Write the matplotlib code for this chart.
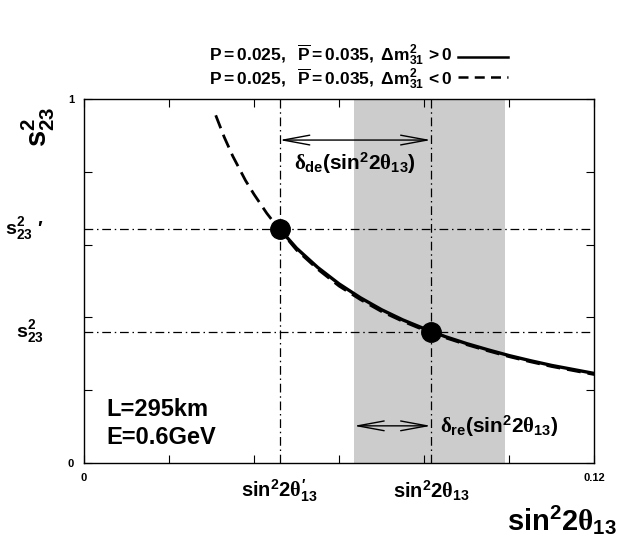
import numpy as np
import matplotlib
matplotlib.use('Agg')
import matplotlib.pyplot as plt

plt.rcParams['font.family'] = ['Liberation Sans', 'DejaVu Sans']
plt.rcParams['font.weight'] = 'bold'
plt.rcParams['mathtext.fontset'] = 'custom'
plt.rcParams['mathtext.rm'] = 'Liberation Sans:bold'
plt.rcParams['mathtext.bf'] = 'Liberation Sans:bold'
plt.rcParams['mathtext.it'] = 'Liberation Serif'
plt.rcParams['mathtext.default'] = 'it'

#=====================================================
# Data
#-----------------------------------------------------
x_solid = [0.046, 0.050, 0.055, 0.060, 0.065, 0.070, 0.075, 0.080, 0.0816,
           0.085, 0.090, 0.095, 0.100, 0.105, 0.110, 0.115, 0.120]
y_solid = [0.643, 0.590, 0.537, 0.492, 0.454, 0.421, 0.393, 0.369, 0.362,
           0.347, 0.328, 0.311, 0.295, 0.281, 0.268, 0.257, 0.246]

x_dash = [0.031, 0.033, 0.035, 0.038, 0.040, 0.043, 0.046, 0.050, 0.055,
          0.060, 0.065, 0.070, 0.075, 0.080, 0.0816, 0.085, 0.090, 0.095,
          0.100, 0.105, 0.110, 0.115, 0.120]
y_dash = [0.955, 0.895, 0.843, 0.776, 0.738, 0.686, 0.641, 0.585, 0.532,
          0.486, 0.449, 0.416, 0.389, 0.365, 0.359, 0.344, 0.325, 0.308,
          0.292, 0.278, 0.265, 0.254, 0.243]

# the two marked points (sin^2 2theta13', s23^2') and (sin^2 2theta13, s23^2)
pts_x = [0.046, 0.0816]
pts_y = [0.643, 0.360]

band = (0.0635, 0.0990)   # grey band in sin^2 2theta13

x_ticks = [0, 0.02, 0.04, 0.06, 0.08, 0.10, 0.12]
x_ticklabels = ['0', '', '', '', '', '', '0.12']
y_ticks = [0, 0.2, 0.4, 0.6, 0.8, 1.0]
y_ticklabels = ['0', '', '', '', '', '1']

leg1 = r'$\mathbf{P{=}0.025,\ \ \overline{P}{=}0.035,\ }\Delta\mathbf{m^2_{31}\,{>}0}$'
leg2 = r'$\mathbf{P{=}0.025,\ \ \overline{P}{=}0.035,\ }\Delta\mathbf{m^2_{31}\,{<}0}$'

#=====================================================
# Figure
#-----------------------------------------------------
fig = plt.figure(figsize=(6.17, 5.45), dpi=100)
ax = fig.add_axes([0.136, 0.1505, 0.827, 0.668])
ax.set_xlim(0, 0.12)
ax.set_ylim(0, 1)

ax.axvspan(band[0], band[1], color='#cccccc', lw=0, zorder=0)

dd = (0, (7, 3, 1.2, 3))
for yy in pts_y:
    ax.axhline(yy, color='black', lw=0.9, ls=dd, zorder=1)
for xx in pts_x:
    ax.axvline(xx, color='black', lw=0.9, ls=dd, zorder=1)

ax.plot(x_dash, y_dash, color='black', lw=2.0, ls=(0, (5, 2.5)), zorder=3)
ax.plot(x_solid, y_solid, color='black', lw=2.4, zorder=3)
ax.plot(pts_x, pts_y, 'o', color='black', ms=14, zorder=4)

# arrows
arrow = dict(arrowstyle='<->,head_length=1.9,head_width=0.35',
             lw=1.0, color='black', shrinkA=0, shrinkB=0)
ax.annotate('', xy=(pts_x[0], 0.887), xytext=(pts_x[1], 0.887), arrowprops=arrow)
ax.text(0.0638, 0.824, r'$\delta_{\mathbf{de}}\mathbf{(sin^2 2}\theta_{\mathbf{13}}\mathbf{)}$',
        fontsize=15, ha='center', va='center')
ax.annotate('', xy=(band[0], 0.102), xytext=(pts_x[1], 0.102), arrowprops=arrow)
ax.text(0.0838, 0.102, r'$\delta_{\mathbf{re}}\mathbf{(sin^2 2}\theta_{\mathbf{13}}\mathbf{)}$',
        fontsize=15, ha='left', va='center')

ax.text(0.0054, 0.146, 'L=295km', fontsize=17, fontweight='bold', va='center')
ax.text(0.0054, 0.069, 'E=0.6GeV', fontsize=17, fontweight='bold', va='center')

# axes styling
ax.set_xticks(x_ticks)
ax.set_xticklabels(x_ticklabels, fontsize=8, fontweight='bold')
ax.set_yticks(y_ticks)
ax.set_yticklabels(y_ticklabels, fontsize=8, fontweight='bold')
ax.tick_params(direction='in', length=6, width=0.8, top=True, right=True, pad=7)
for s in ax.spines.values():
    s.set_linewidth(1.0)

# custom labels on the axes
ax.text(-0.0095, pts_y[0], r'$\mathbf{s^2_{23}}\ \prime$', fontsize=14,
        ha='right', va='center', clip_on=False)
ax.text(-0.0095, pts_y[1], r'$\mathbf{s^2_{23}}$', fontsize=14,
        ha='right', va='center', clip_on=False)
ax.text(pts_x[0], -0.075, r'$\mathbf{sin^2 2}\theta^{\prime}_{\mathbf{13}}$', fontsize=14.5,
        ha='center', va='center', clip_on=False)
ax.text(pts_x[1], -0.075, r'$\mathbf{sin^2 2}\theta_{\mathbf{13}}$', fontsize=14.5,
        ha='center', va='center', clip_on=False)

fig.text(0.822, 0.045, r'$\mathbf{sin^2 2}\theta_{\mathbf{13}}$', fontsize=21,
         ha='left', va='center')
fig.text(0.062, 0.768, r'$\mathbf{s^2_{23}}$', fontsize=21, rotation=90,
         ha='center', va='center')

# legend in the top margin
fig.text(0.733, 0.899, leg1, fontsize=12.5, ha='right', va='center')
fig.text(0.733, 0.855, leg2, fontsize=12.5, ha='right', va='center')
fig.add_artist(plt.Line2D([0.742, 0.823], [0.895, 0.895], color='black', lw=1.8,
                          transform=fig.transFigure))
fig.add_artist(plt.Line2D([0.742, 0.823], [0.858, 0.858], color='black', lw=1.8,
                          ls=(0, (4, 2.5)), transform=fig.transFigure))

fig.savefig('out.png', dpi=100)
